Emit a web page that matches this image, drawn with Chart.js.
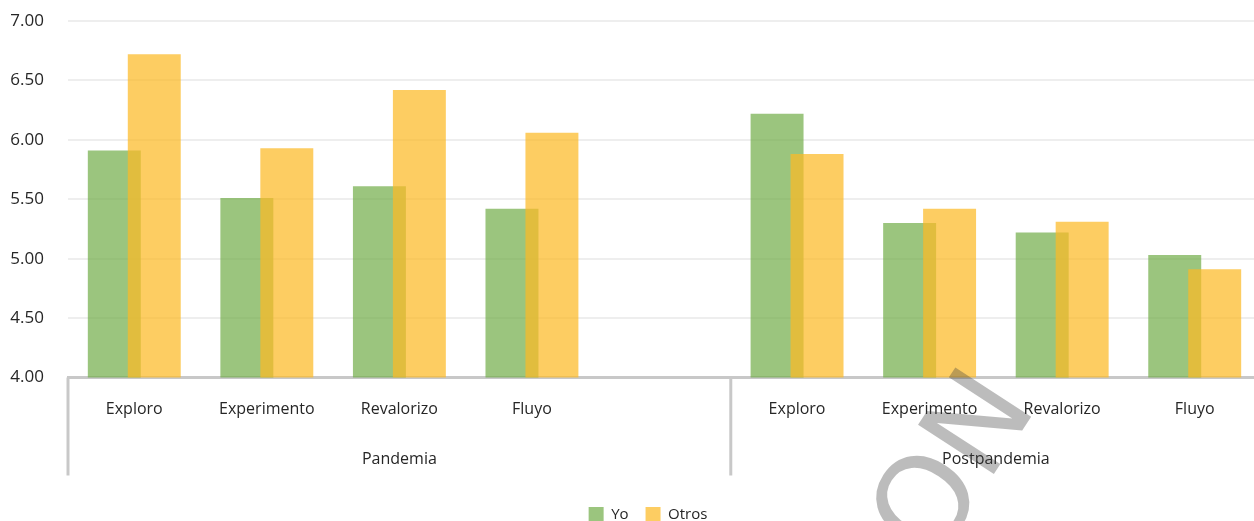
<!DOCTYPE html>
<html>
<head>
<meta charset="utf-8">
<script src="https://cdn.jsdelivr.net/npm/chart.js@4/dist/chart.umd.min.js"></script>
<style>
  html, body { margin: 0; padding: 0; background: #ffffff; overflow: hidden; }
  #wrap { width: 1254px; height: 521px; overflow: hidden; position: relative; }
  canvas { display: block; }
</style>
</head>
<body>
<div id="wrap"><canvas id="c" width="1296" height="532"></canvas></div>
<script>
// ---- data ----
const categories = ['Exploro', 'Experimento', 'Revalorizo', 'Fluyo', '', 'Exploro', 'Experimento', 'Revalorizo', 'Fluyo'];
const groupLabels = ['Pandemia', 'Postpandemia'];
const groupSizes = [5, 4];
const yoValues = [5.91, 5.51, 5.61, 5.42, null, 6.22, 5.30, 5.22, 5.03];
const otrosValues = [6.72, 5.93, 6.42, 6.06, null, 5.88, 5.42, 5.31, 4.91];
const seriesNames = ['Yo', 'Otros'];
const yTicks = { min: 4, max: 7, step: 0.5 };

const FONT = "'Open Sans', 'Noto Sans', sans-serif";
const TEXT = '#262626';
const AXIS = '#c8c8c8';

// draw Yo first, Otros (semi-transparent) on top
const drawOrderPlugin = {
  id: 'drawOrder',
  beforeDatasetsDraw(chart) {
    const ctx = chart.ctx, a = chart.chartArea;
    ctx.save();
    ctx.beginPath();
    ctx.rect(a.left, a.top, a.right - a.left, a.bottom - a.top);
    ctx.clip();
    for (let i = 0; i < chart.data.datasets.length; i++) {
      chart.getDatasetMeta(i).controller.draw();
    }
    ctx.restore();
    return false;
  }
};

const groupPlugin = {
  id: 'groups',
  afterDraw(chart) {
    const ctx = chart.ctx;
    const xs = chart.scales.x;
    const n = categories.length;
    const cw = (xs.right - xs.left) / n;
    ctx.save();
    ctx.strokeStyle = AXIS;
    ctx.lineWidth = 3;
    let start = 0;
    const bounds = [xs.left];
    groupSizes.forEach(s => { start += s; bounds.push(xs.getPixelForValue(start - 1) + cw / 2); });
    for (let i = 0; i < bounds.length - 1; i++) {
      ctx.beginPath();
      ctx.moveTo(bounds[i], xs.top);
      ctx.lineTo(bounds[i], xs.top + 98);
      ctx.stroke();
    }
    ctx.fillStyle = TEXT;
    ctx.font = "16px " + FONT;
    ctx.textAlign = 'center';
    ctx.textBaseline = 'middle';
    groupLabels.forEach((g, i) => {
      ctx.fillText(g, (bounds[i] + bounds[i + 1]) / 2, xs.top + 82);
    });
    ctx.restore();

    // watermark
    ctx.save();
    ctx.translate(934, 566);
    ctx.rotate(-57 * Math.PI / 180);
    ctx.font = "124px 'DejaVu Sans'";
    ctx.fillStyle = 'rgba(60,60,60,0.34)';
    ctx.textAlign = 'left';
    ctx.textBaseline = 'alphabetic';
    ctx.fillText('ON', 0, 0);
    ctx.restore();
  }
};

new Chart(document.getElementById('c'), {
  type: 'bar',
  data: {
    labels: categories,
    datasets: [
      {
        label: seriesNames[0],
        data: yoValues,
        backgroundColor: 'rgba(112,173,71,0.7)',
        borderWidth: 0,
        categoryPercentage: 0.603,
        barPercentage: 1.325
      },
      {
        label: seriesNames[1],
        data: otrosValues,
        backgroundColor: 'rgba(252,186,38,0.72)',
        borderWidth: 0,
        categoryPercentage: 0.603,
        barPercentage: 1.325
      }
    ]
  },
  options: {
    responsive: false,
    animation: false,
    devicePixelRatio: 1,
    layout: { padding: { top: 21, left: 0, right: 0, bottom: 0 } },
    plugins: {
      legend: {
        position: 'bottom',
        labels: {
          boxWidth: 15,
          boxHeight: 15,
          padding: 17,
          color: TEXT,
          font: { family: FONT, size: 15 }
        }
      },
      tooltip: { enabled: false }
    },
    scales: {
      x: {
        type: 'category',
        grid: { display: false, drawTicks: false },
        border: { display: true, color: AXIS, width: 3 },
        ticks: {
          color: TEXT,
          font: { family: FONT, size: 16 },
          padding: 22,
          maxRotation: 0,
          autoSkip: false
        },
        afterFit(scale) {
          const lh = scale.chart.legend ? scale.chart.legend.height : 0;
          scale.height = scale.chart.height - 377.5 - lh;
        }
      },
      y: {
        min: yTicks.min,
        max: yTicks.max,
        grid: { color: '#eeeeee', lineWidth: 2, drawTicks: false },
        border: { display: false },
        ticks: {
          stepSize: yTicks.step,
          color: TEXT,
          font: { family: FONT, size: 17 },
          padding: 24,
          callback: v => Number(v).toFixed(2)
        },
        afterFit(scale) {
          scale.width = 68;
          scale.paddingTop = 0;
          scale.paddingBottom = 0;
        }
      },
      y2: {
        position: 'right',
        display: true,
        grid: { drawOnChartArea: false, drawTicks: false },
        border: { display: false },
        ticks: { display: false },
        afterFit(scale) { scale.width = 35; }
      }
    }
  },
  plugins: [drawOrderPlugin, groupPlugin]
});
</script>
</body>
</html>
